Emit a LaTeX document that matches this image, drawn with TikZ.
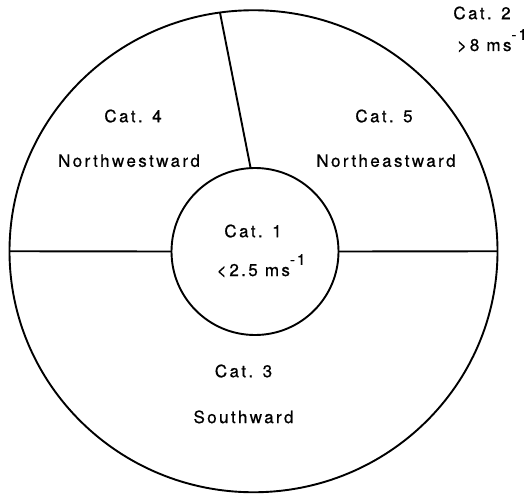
\documentclass[tikz,border=0pt]{standalone}
\usepackage{fontspec}
\setmainfont{TeX Gyre Heros}[LetterSpace=14, FakeBold=0.7]
\usetikzlibrary{shapes.geometric,positioning}
\newcommand{\perms}{ms\raisebox{0.66em}{\fontsize{15}{15}\selectfont -1}}

\begin{document}
\begin{tikzpicture}[x=1pt, y=-1pt, line width=1.9pt,
    zone/.style={draw, inner sep=0pt, outer sep=0pt},
    lbl/.style={font=\fontsize{17}{17}\selectfont, inner sep=0pt},
]
\useasboundingbox (0,0) rectangle (532,495);

% Rings
\node[zone, ellipse, minimum width=488pt, minimum height=482pt] (outer) at (253.5,251.25) {};
\node[zone, circle, minimum size=167pt] (inner) at (255,251.5) {};

% Dividers
\draw (outer.west) -- (inner.west);
\draw (inner.east) -- (outer.east);
\draw (inner.93.4) -- (outer.98.5);

% Category labels
\node[lbl] (cat4) at (133,116) {Cat. 4};
\node[lbl, below=30pt of cat4, xshift=-4pt] (nw) {Northwestward};
\node[lbl] (cat5) at (384,116) {Cat. 5};
\node[lbl, below=30pt of cat5, xshift=2pt] (ne) {Northeastward};
\node[lbl] (cat1) at (253,231) {Cat. 1};
\node[lbl, anchor=base] (slow) at (261,276) {<\,2.5 \perms};
\node[lbl] (cat3) at (243.5,371) {Cat. 3};
\node[lbl, below=31pt of cat3] (south) {Southward};
\node[lbl] (cat2) at (482,13) {Cat. 2};
\node[lbl, anchor=base] (fast) at (492,51) {>\,8 \perms};

\end{tikzpicture}
\end{document}
